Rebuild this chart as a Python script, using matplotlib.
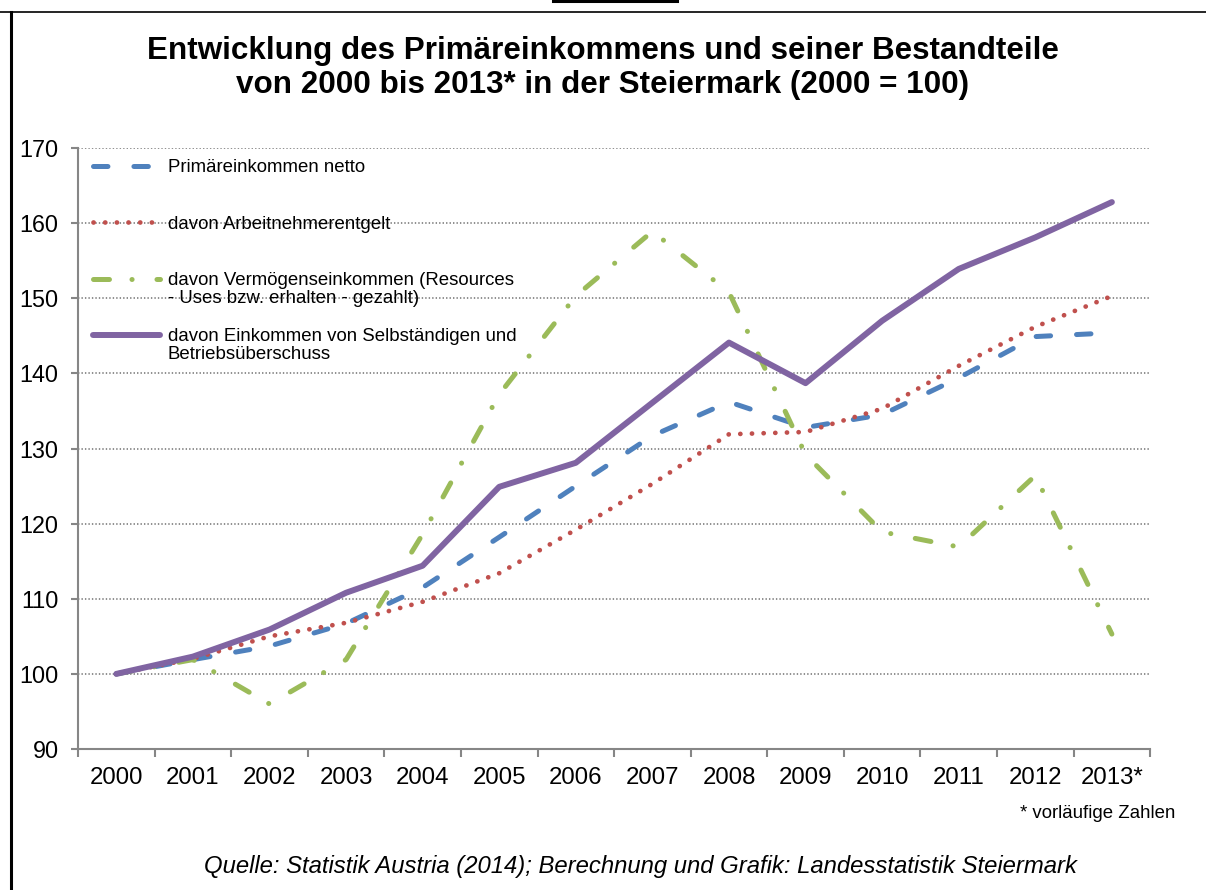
import matplotlib
matplotlib.use('Agg')
import matplotlib.pyplot as plt
from matplotlib.lines import Line2D

plt.rcParams['font.family'] = ['Liberation Sans', 'DejaVu Sans']
plt.rcParams['lines.scale_dashes'] = False

# Daten (2000 = 100)
jahre = ['2000', '2001', '2002', '2003', '2004', '2005', '2006',
         '2007', '2008', '2009', '2010', '2011', '2012', '2013*']
primaer_netto = [100, 101.9, 103.7, 106.7, 111.5, 118.2, 125.0,
                 131.7, 136.2, 132.8, 134.5, 139.4, 144.9, 145.4]
arbeitnehmer = [100, 102.0, 105.0, 106.8, 109.6, 113.4, 119.2,
                125.3, 131.9, 132.2, 135.3, 141.0, 146.2, 150.3]
vermoegen = [100, 101.9, 96.0, 101.9, 118.6, 137.2, 150.3,
             158.9, 150.8, 129.2, 118.9, 116.9, 126.4, 105.3]
selbststaendig = [100, 102.3, 105.9, 110.8, 114.4, 124.9, 128.1,
                  136.1, 144.1, 138.7, 147.0, 153.9, 158.1, 162.8]

labels = ['Primäreinkommen netto',
          'davon Arbeitnehmerentgelt',
          'davon Vermögenseinkommen (Resources',
          'davon Einkommen von Selbständigen und']
zweite_zeile = {2: '- Uses bzw. erhalten - gezahlt)',
                3: 'Betriebsüberschuss'}

fig = plt.figure(figsize=(12.06, 8.9), dpi=100)
ax = fig.add_axes([0.0647, 0.1584, 0.889, 0.6753])

x = list(range(len(jahre)))
ax.plot(x, primaer_netto, color='#4F81BD', lw=3.6, dashes=(10.4, 18.7),
        dash_capstyle='round', label=labels[0], zorder=3)
ax.plot(x, arbeitnehmer, color='#C0504D', lw=3.4, dashes=(0.1, 8.3),
        dash_capstyle='round', label=labels[1], zorder=3)
ax.plot(x, vermoegen, color='#9BBB59', lw=3.6, dashes=(11.5, 16.2, 0.1, 17.9),
        dash_capstyle='round', label=labels[2], zorder=3)
ax.plot(x, selbststaendig, color='#8064A2', lw=4.3, solid_capstyle='round',
        label=labels[3], zorder=4)

ax.set_xlim(-0.5, len(jahre) - 0.5)
ax.set_ylim(90, 170)
ax.set_yticks(range(90, 171, 10))
ax.set_xticks(x)
ax.set_xticklabels(jahre)
ax.set_xticks([i - 0.5 for i in range(len(jahre) + 1)], minor=True)
ax.tick_params(axis='x', which='major', length=0, pad=13, labelsize=17.3)
ax.tick_params(axis='x', which='minor', length=6, width=1.5, color='#868686')
ax.tick_params(axis='y', length=5, width=1.5, color='#868686', pad=9, labelsize=16.8)

for y in range(100, 171, 10):
    ax.axhline(y, color='#868686', lw=1.3, ls=(0, (1, 1.5)), zorder=1)

for s in ['top', 'right']:
    ax.spines[s].set_visible(False)
for s in ['left', 'bottom']:
    ax.spines[s].set_color('#868686')
    ax.spines[s].set_linewidth(1.5)

leg = ax.legend(loc='upper left', bbox_to_anchor=(0.0135, 0.981), frameon=False,
                fontsize=13.4, handlelength=3.6, handletextpad=0.45,
                labelspacing=2.11, borderpad=0, borderaxespad=0)
texts = leg.get_texts()
# zweite Zeile der langen Legendeneinträge unter die erste setzen
for i, t in zweite_zeile.items():
    ax.annotate(t, xy=(0, 0), xycoords=texts[i], xytext=(0, -0.5),
                textcoords='offset points', ha='left', va='top', fontsize=13.4,
                zorder=10)

fig.text(0.5, 1 - 68 / 890, 'Entwicklung des Primäreinkommens und seiner Bestandteile\n'
         'von 2000 bis 2013* in der Steiermark (2000 = 100)',
         ha='center', va='center', fontsize=22.6, fontweight='bold', linespacing=1.14)
fig.text(1175 / 1206, 1 - 813 / 890, '* vorläufige Zahlen', ha='right', va='center',
         fontsize=13.4)
fig.text(640 / 1206, 1 - 866 / 890,
         'Quelle: Statistik Austria (2014); Berechnung und Grafik: Landesstatistik Steiermark',
         ha='center', va='center', fontsize=17.2, style='italic')

# Rahmen
fig.add_artist(Line2D([0, 1], [1 - 12 / 890, 1 - 12 / 890], color='black', lw=1.2))
fig.add_artist(Line2D([11 / 1206, 11 / 1206], [0, 1 - 12 / 890], color='black', lw=2.2))
fig.add_artist(Line2D([553 / 1206, 677 / 1206], [1 - 1 / 890, 1 - 1 / 890],
                      color='black', lw=2.2))

fig.savefig('out.png', dpi=100)
